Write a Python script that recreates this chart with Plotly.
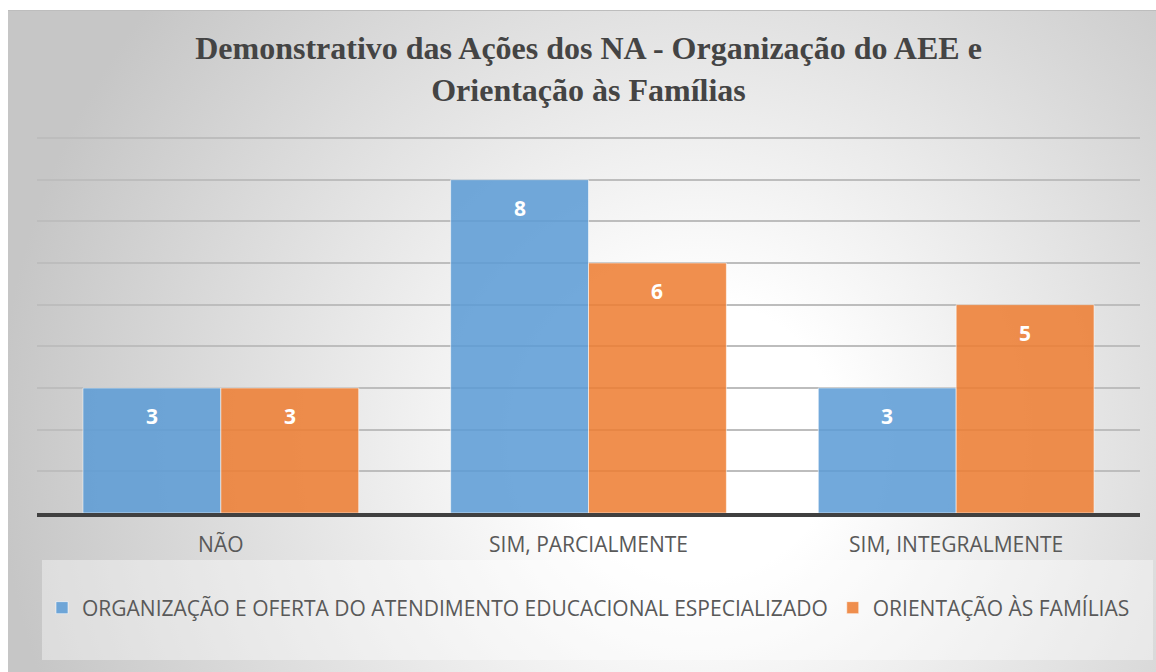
import base64
import plotly.graph_objects as go

# ---- data ----
categories = ["NÃO", "SIM, PARCIALMENTE", "SIM, INTEGRALMENTE"]
series_names = [
    "ORGANIZAÇÃO E OFERTA DO ATENDIMENTO EDUCACIONAL ESPECIALIZADO",
    "ORIENTAÇÃO ÀS FAMÍLIAS",
]
organizacao = [3, 8, 3]
orientacao = [3, 6, 5]
title_text = "Demonstrativo das Ações dos NA - Organização do AEE e<br>Orientação às Famílias"

W, H = 1156, 672
# plot area in pixels
PL, PR, PT, PB = 37, 1140, 136, 513
pw, ph = PR - PL, PB - PT

def px_x(x):
    return (x - PL) / pw

def px_y(y):
    return (PB - y) / ph

# radial gradient background as svg
svg = f'''<svg xmlns="http://www.w3.org/2000/svg" width="{W-8}" height="{H-10}" viewBox="0 0 {W-8} {H-10}">
<defs><radialGradient id="g" gradientUnits="userSpaceOnUse" cx="690" cy="430" r="700">
<stop offset="0" stop-color="#ffffff"/><stop offset="0.2" stop-color="#ffffff"/><stop offset="1" stop-color="#c6c6c6"/>
</radialGradient></defs>
<rect x="0" y="0" width="{W-8}" height="{H-10}" fill="url(#g)"/>
<line x1="0" y1="0.5" x2="{W-8}" y2="0.5" stroke="#bdbdbd" stroke-width="1"/>
</svg>'''
src = "data:image/svg+xml;base64," + base64.b64encode(svg.encode()).decode()

colors = ["rgba(91,155,213,0.86)", "rgba(237,125,49,0.86)"]
fig = go.Figure()
for name, vals, col in zip(series_names, [organizacao, orientacao], colors):
    fig.add_trace(go.Bar(
        x=categories, y=vals, name=name,
        marker=dict(color=col, line=dict(color="rgba(255,255,255,0.55)", width=1)),
        hoverinfo="skip",
    ))

half = pw / 3 * 0.75 / 4
annotations = []
for vals, sh in [(organizacao, -half), (orientacao, half)]:
    for c, v in zip(categories, vals):
        annotations.append(dict(
            x=c, y=v, xref="x", yref="y", text=f"<b>{v}</b>", showarrow=False,
            xshift=sh, yshift=-28, yanchor="middle",
            font=dict(family="Open Sans", size=21, color="white"),
        ))

fig.update_layout(
    width=W, height=H,
    margin=dict(l=PL, r=W - PR, t=PT, b=H - PB),
    paper_bgcolor="white", plot_bgcolor="rgba(0,0,0,0)",
    barmode="group", bargap=0.25, bargroupgap=0,
    title=dict(
        text=title_text, x=0.5, xanchor="center", xref="paper",
        y=1 - 59 / H, yanchor="top",
        font=dict(family="Liberation Serif", size=32, color="#444444", weight="bold"),
    ),
    xaxis=dict(
        showline=True, linecolor="#404040", linewidth=4,
        showgrid=False, ticks="", ticklabelstandoff=10,
        tickfont=dict(family="Open Sans", size=21, color="#595959"),
    ),
    yaxis=dict(
        range=[0, 9.05], dtick=1, showticklabels=False, showgrid=True,
        gridcolor="#bdbdbd", gridwidth=1.5, zeroline=False, showline=False,
    ),
    legend=dict(
        orientation="h", x=0.5, xanchor="center",
        y=px_y(608), yanchor="middle", bgcolor="rgba(0,0,0,0)",
        font=dict(family="Open Sans", size=21, color="#595959"),
        itemclick=False, itemdoubleclick=False,
    ),
    showlegend=True,
    annotations=annotations,
    images=[dict(
        source=src, xref="paper", yref="paper",
        x=px_x(8), y=px_y(10), sizex=(W - 8) / pw, sizey=(H - 10) / ph,
        xanchor="left", yanchor="top", sizing="stretch", layer="below",
    )],
    shapes=[dict(
        type="rect", xref="paper", yref="paper",
        x0=px_x(42), x1=px_x(1153), y0=px_y(660), y1=px_y(560),
        fillcolor="rgba(255,255,255,0.38)", line=dict(width=0), layer="below",
    )],
)

fig.write_html("out.html", config={"displayModeBar": False},
               post_script="document.body.style.margin='0';")
